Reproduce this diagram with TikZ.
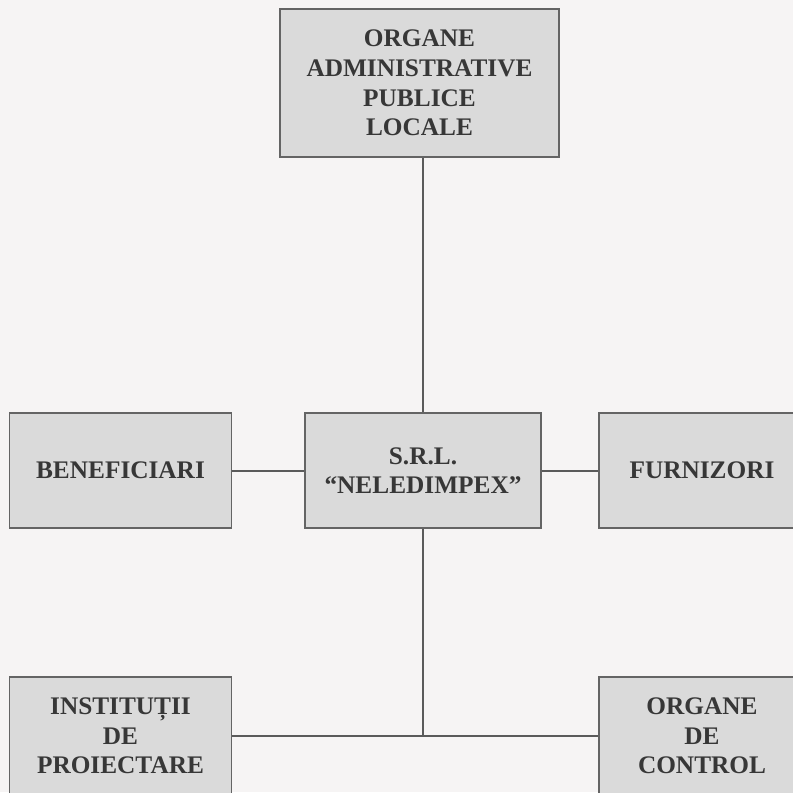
\documentclass[tikz,border=0pt]{standalone}
\usepackage{fontspec}
\setmainfont{Liberation Serif}
\definecolor{bgcol}{RGB}{246,244,244}
\definecolor{boxfill}{RGB}{218,218,218}
\definecolor{boxline}{RGB}{100,100,100}
\definecolor{boxtext}{RGB}{55,55,55}
\definecolor{linkcol}{RGB}{90,90,90}
\begin{document}
\begin{tikzpicture}[x=0.025cm, y=-0.025cm,
      box/.style={draw=boxline, fill=boxfill, line width=1.3pt, text=boxtext,
                  font=\bfseries\fontsize{18}{21}\selectfont, align=center,
                  inner sep=0pt, minimum height=2.875cm},
      link/.style={draw=linkcol, line width=1.4pt}]
      \useasboundingbox[fill=bgcol] (0, 0) rectangle (793, 792);
      \clip (0, 0) rectangle (793, 792);
      \node[box, minimum width=6.975cm, minimum height=3.7cm] (apl) at (419.5, 83) {ORGANE\\ADMINISTRATIVE\\PUBLICE\\LOCALE};
      \node[box, minimum width=5.55cm] (benef) at (120.5, 470.5) {BENEFICIARI};
      \node[box, minimum width=5.9cm] (srl) at (423, 470.5) {S.R.L.\\“NELEDIMPEX”};
      \node[box, minimum width=5.15cm] (furn) at (702, 470.5) {FURNIZORI};
      \node[box, minimum width=5.55cm, minimum height=2.95cm] (inst) at (120.5, 736) {INSTITUȚII\\DE\\PROIECTARE};
      \node[box, minimum width=5.15cm, minimum height=2.95cm] (ctrl) at (702, 736) {ORGANE\\DE\\CONTROL};
      \coordinate (nod) at (srl.south |- inst.east);
      \draw[link] (apl.south -| srl.north) -- (srl.north);
      \draw[link] (benef) -- (srl) -- (furn);
      \draw[link] (srl) -- (nod);
      \draw[link] (inst) -- (ctrl);
\end{tikzpicture}
\end{document}
